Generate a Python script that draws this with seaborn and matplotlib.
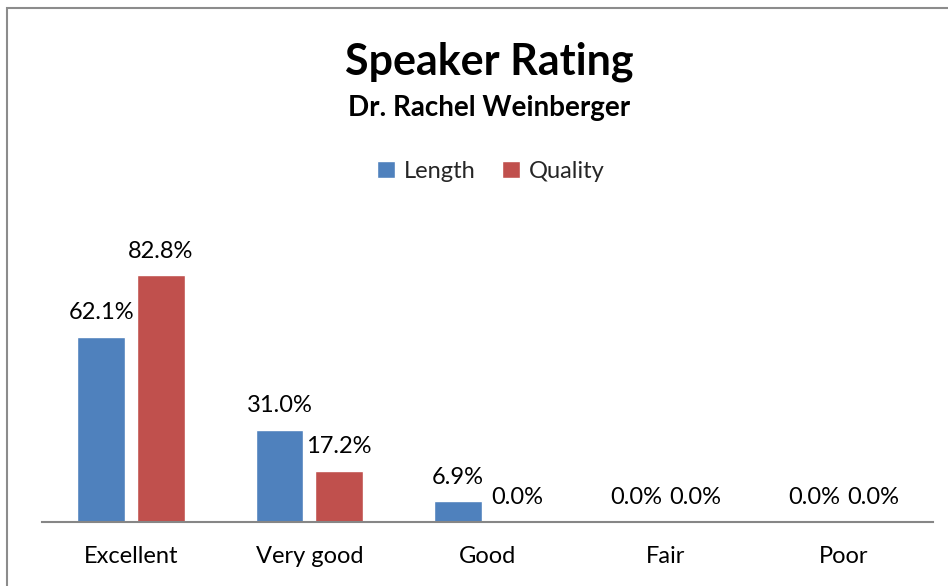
import numpy as np
import pandas as pd
import matplotlib
matplotlib.use("Agg")
import matplotlib.pyplot as plt
from matplotlib.patches import Rectangle, Patch
import seaborn as sns

categories = ["Excellent", "Very good", "Good", "Fair", "Poor"]
series = ["Length", "Quality"]
length_pct = [62.1, 31.0, 6.9, 0.0, 0.0]
quality_pct = [82.8, 17.2, 0.0, 0.0, 0.0]
colors = ["#4F81BD", "#C0504D"]

df = pd.DataFrame({
    "rating": categories * 2,
    "series": [series[0]] * len(categories) + [series[1]] * len(categories),
    "pct": length_pct + quality_pct,
})

sns.set_style("white")
plt.rcParams["font.family"] = ["Lato", "DejaVu Sans"]

W, H = 948, 586
fig = plt.figure(figsize=(W / 100, H / 100), dpi=100)
ax = fig.add_axes([42 / W, (H - 522) / H, (933 - 42) / W, (522 - 254) / H])

sns.barplot(data=df, x="rating", y="pct", hue="series", order=categories,
            hue_order=series, palette=colors, width=0.67, gap=0.2,
            saturation=1, ax=ax, legend=False)

ax.set_ylim(0, 90)
ax.set_xlim(-0.5, len(categories) - 0.5)
ax.set_xlabel("")
ax.set_ylabel("")
ax.set_yticks([])
sns.despine(ax=ax, left=True)
ax.spines["bottom"].set_color("#868686")
ax.spines["bottom"].set_linewidth(1.5)
ax.tick_params(axis="x", length=0, pad=17, labelsize=17, labelcolor="black")

for cont in ax.containers:
    ax.bar_label(cont, labels=[f"{v:.1f}%" for v in cont.datavalues],
                 padding=10, fontsize=17, color="black")

fig.text(0.516, 1 - 62 / H, "Speaker Rating", ha="center", va="center",
         fontsize=31, fontweight="bold", color="black")
fig.text(0.516, 1 - 108 / H, "Dr. Rachel Weinberger", ha="center", va="center",
         fontsize=20, fontweight="bold", color="black")

handles = [Patch(facecolor=c, label=s) for c, s in zip(colors, series)]
fig.legend(handles=handles, loc="center", bbox_to_anchor=(0.518, 1 - 171 / H),
           ncol=2, frameon=False, fontsize=17, handlelength=0.75,
           handleheight=0.75, handletextpad=0.4, columnspacing=1.1)

fig.add_artist(Rectangle((7 / W, -0.05), 1.1, (H - 8) / H + 0.05, fill=False,
                         edgecolor="#8c8c8c", linewidth=1.5,
                         transform=fig.transFigure))

fig.savefig("out.png", dpi=100)
